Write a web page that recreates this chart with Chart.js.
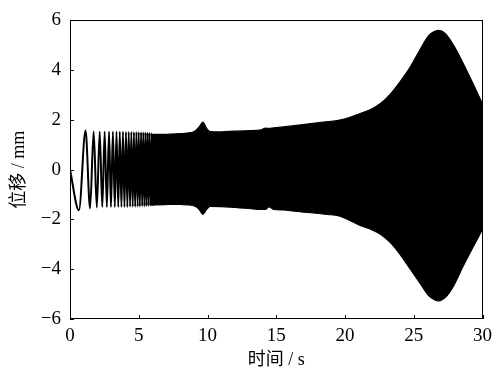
<!DOCTYPE html>
<html>
<head>
<meta charset="utf-8">
<script src="https://cdn.jsdelivr.net/npm/chart.js@4.4.1/dist/chart.umd.min.js"></script>
<style>
  html, body { margin: 0; padding: 0; background: #fff; }
  canvas { display: block; }
</style>
</head>
<body>
<canvas id="grafik" width="498" height="374"></canvas>
<script>
// early part: single oscillations still visible (extrema)
const waveT = [0, 0.65, 1.13, 1.46, 1.72, 1.95, 2.16, 2.35, 2.52, 2.68, 2.84, 2.98, 3.12, 3.26, 3.38, 3.51,
               3.62, 3.74, 3.85, 3.96, 4.07, 4.17, 4.27, 4.37, 4.46, 4.56, 4.65, 4.74, 4.83, 4.92, 5.00,
               5.08, 5.17, 5.25, 5.33, 5.41, 5.49, 5.56, 5.64, 5.71, 5.78, 5.86, 5.93, 6.00];
const waveY = [0, -1.63, 1.58, -1.55, 1.54, -1.52, 1.53, -1.5, 1.53, -1.5, 1.53, -1.5, 1.53, -1.5, 1.53, -1.5,
               1.53, -1.5, 1.53, -1.5, 1.52, -1.5, 1.52, -1.49, 1.52, -1.49, 1.51, -1.49, 1.51, -1.48, 1.5,
               -1.48, 1.5, -1.47, 1.49, -1.47, 1.49, -1.46, 1.48, -1.46, 1.47, -1.45, 1.46, -1.44];

// dense part: oscillation envelope (upper / lower edge of the black band)
const envT = [5.9, 7, 8, 8.5, 9.1, 9.4, 9.66, 9.93, 10.2, 11, 12, 13, 13.9, 14.2, 14.5, 14.8, 15.5, 16.3,
              17.5, 18.75, 19.5, 20.2, 21.15, 21.9, 22.6, 23.3, 24.0, 24.75, 25.5, 26.1, 26.5, 26.8, 27.3,
              27.9, 28.6, 29.3, 30];
const envUpper = [1.42, 1.42, 1.45, 1.47, 1.56, 1.73, 1.91, 1.67, 1.53, 1.52, 1.55, 1.57, 1.6, 1.67, 1.66,
                  1.68, 1.72, 1.77, 1.85, 1.93, 1.98, 2.07, 2.27, 2.43, 2.67, 3.04, 3.53, 4.13, 4.87, 5.4,
                  5.55, 5.6, 5.47, 5.0, 4.27, 3.47, 2.65];
const envLower = [-1.42, -1.4, -1.39, -1.41, -1.47, -1.6, -1.8, -1.6, -1.47, -1.48, -1.52, -1.56, -1.6,
                  -1.6, -1.49, -1.6, -1.62, -1.67, -1.73, -1.8, -1.85, -2.0, -2.25, -2.4, -2.6, -2.93, -3.4,
                  -4.0, -4.6, -5.07, -5.22, -5.27, -5.13, -4.67, -3.87, -3.13, -2.4];

const xTicks = [0, 5, 10, 15, 20, 25, 30];
const yTicks = [-6, -4, -2, 0, 2, 4, 6];

const toPts = (xs, ys) => xs.map((x, i) => ({ x: x, y: ys[i] }));

const fontSerif = '"Liberation Serif", "Times New Roman", "Noto Sans CJK SC", serif';

// frame + inward ticks
const bingkai = {
    id: 'bingkai',
    afterDatasetsDraw(chart) {
        const { ctx, chartArea: a, scales } = chart;
        ctx.save();
        ctx.strokeStyle = '#000';
        ctx.lineWidth = 1;
        ctx.strokeRect(Math.round(a.left) + 0.5, Math.round(a.top) + 0.5,
                       Math.round(a.right - a.left) - 1, Math.round(a.bottom - a.top) - 1);
        ctx.beginPath();
        xTicks.forEach(v => {
            const px = Math.round(scales.x.getPixelForValue(v)) + 0.5;
            ctx.moveTo(px, a.bottom);
            ctx.lineTo(px, a.bottom - 4);
        });
        yTicks.forEach(v => {
            const py = Math.round(scales.y.getPixelForValue(v)) + 0.5;
            ctx.moveTo(a.left, py);
            ctx.lineTo(a.left + 4, py);
        });
        ctx.stroke();
        ctx.restore();
    }
};

new Chart(document.getElementById('grafik'), {
    type: 'line',
    data: {
        datasets: [
            {
                data: toPts(envT, envUpper),
                borderColor: '#000',
                backgroundColor: '#000',
                borderWidth: 1.2,
                fill: '+1',
                pointRadius: 0,
                cubicInterpolationMode: 'monotone'
            },
            {
                data: toPts(envT, envLower),
                borderColor: '#000',
                backgroundColor: '#000',
                borderWidth: 1.2,
                fill: false,
                pointRadius: 0,
                cubicInterpolationMode: 'monotone'
            },
            {
                data: toPts(waveT, waveY),
                borderColor: '#000',
                borderWidth: 2,
                fill: false,
                pointRadius: 0,
                cubicInterpolationMode: 'monotone'
            }
        ]
    },
    options: {
        responsive: false,
        animation: false,
        layout: { padding: { left: 0, right: 12, top: 20, bottom: 0 } },
        plugins: {
            legend: { display: false },
            tooltip: { enabled: false }
        },
        scales: {
            x: {
                type: 'linear',
                min: 0,
                max: 30,
                afterBuildTicks: s => { s.ticks = xTicks.map(v => ({ value: v })); },
                afterFit: s => { s.height = 55; },
                grid: { display: false, drawTicks: false },
                border: { display: false },
                ticks: {
                    color: '#000',
                    padding: 6,
                    maxRotation: 0,
                    font: { family: fontSerif, size: 19 }
                },
                title: {
                    display: true,
                    text: '时间 / s',
                    color: '#000',
                    padding: { top: 0, bottom: 3 },
                    font: { family: fontSerif, size: 18 }
                }
            },
            y: {
                min: -6,
                max: 6,
                afterBuildTicks: s => { s.ticks = yTicks.map(v => ({ value: v })); },
                afterFit: s => { s.width = 70; },
                grid: { display: false, drawTicks: false },
                border: { display: false },
                ticks: {
                    color: '#000',
                    padding: 9,
                    font: { family: fontSerif, size: 19 },
                    callback: v => String(v).replace('-', '\u2212')
                },
                title: {
                    display: true,
                    text: '位移 / mm',
                    color: '#000',
                    padding: { top: 8, bottom: 0 },
                    font: { family: fontSerif, size: 18 }
                }
            }
        }
    },
    plugins: [bingkai]
});
</script>
</body>
</html>
